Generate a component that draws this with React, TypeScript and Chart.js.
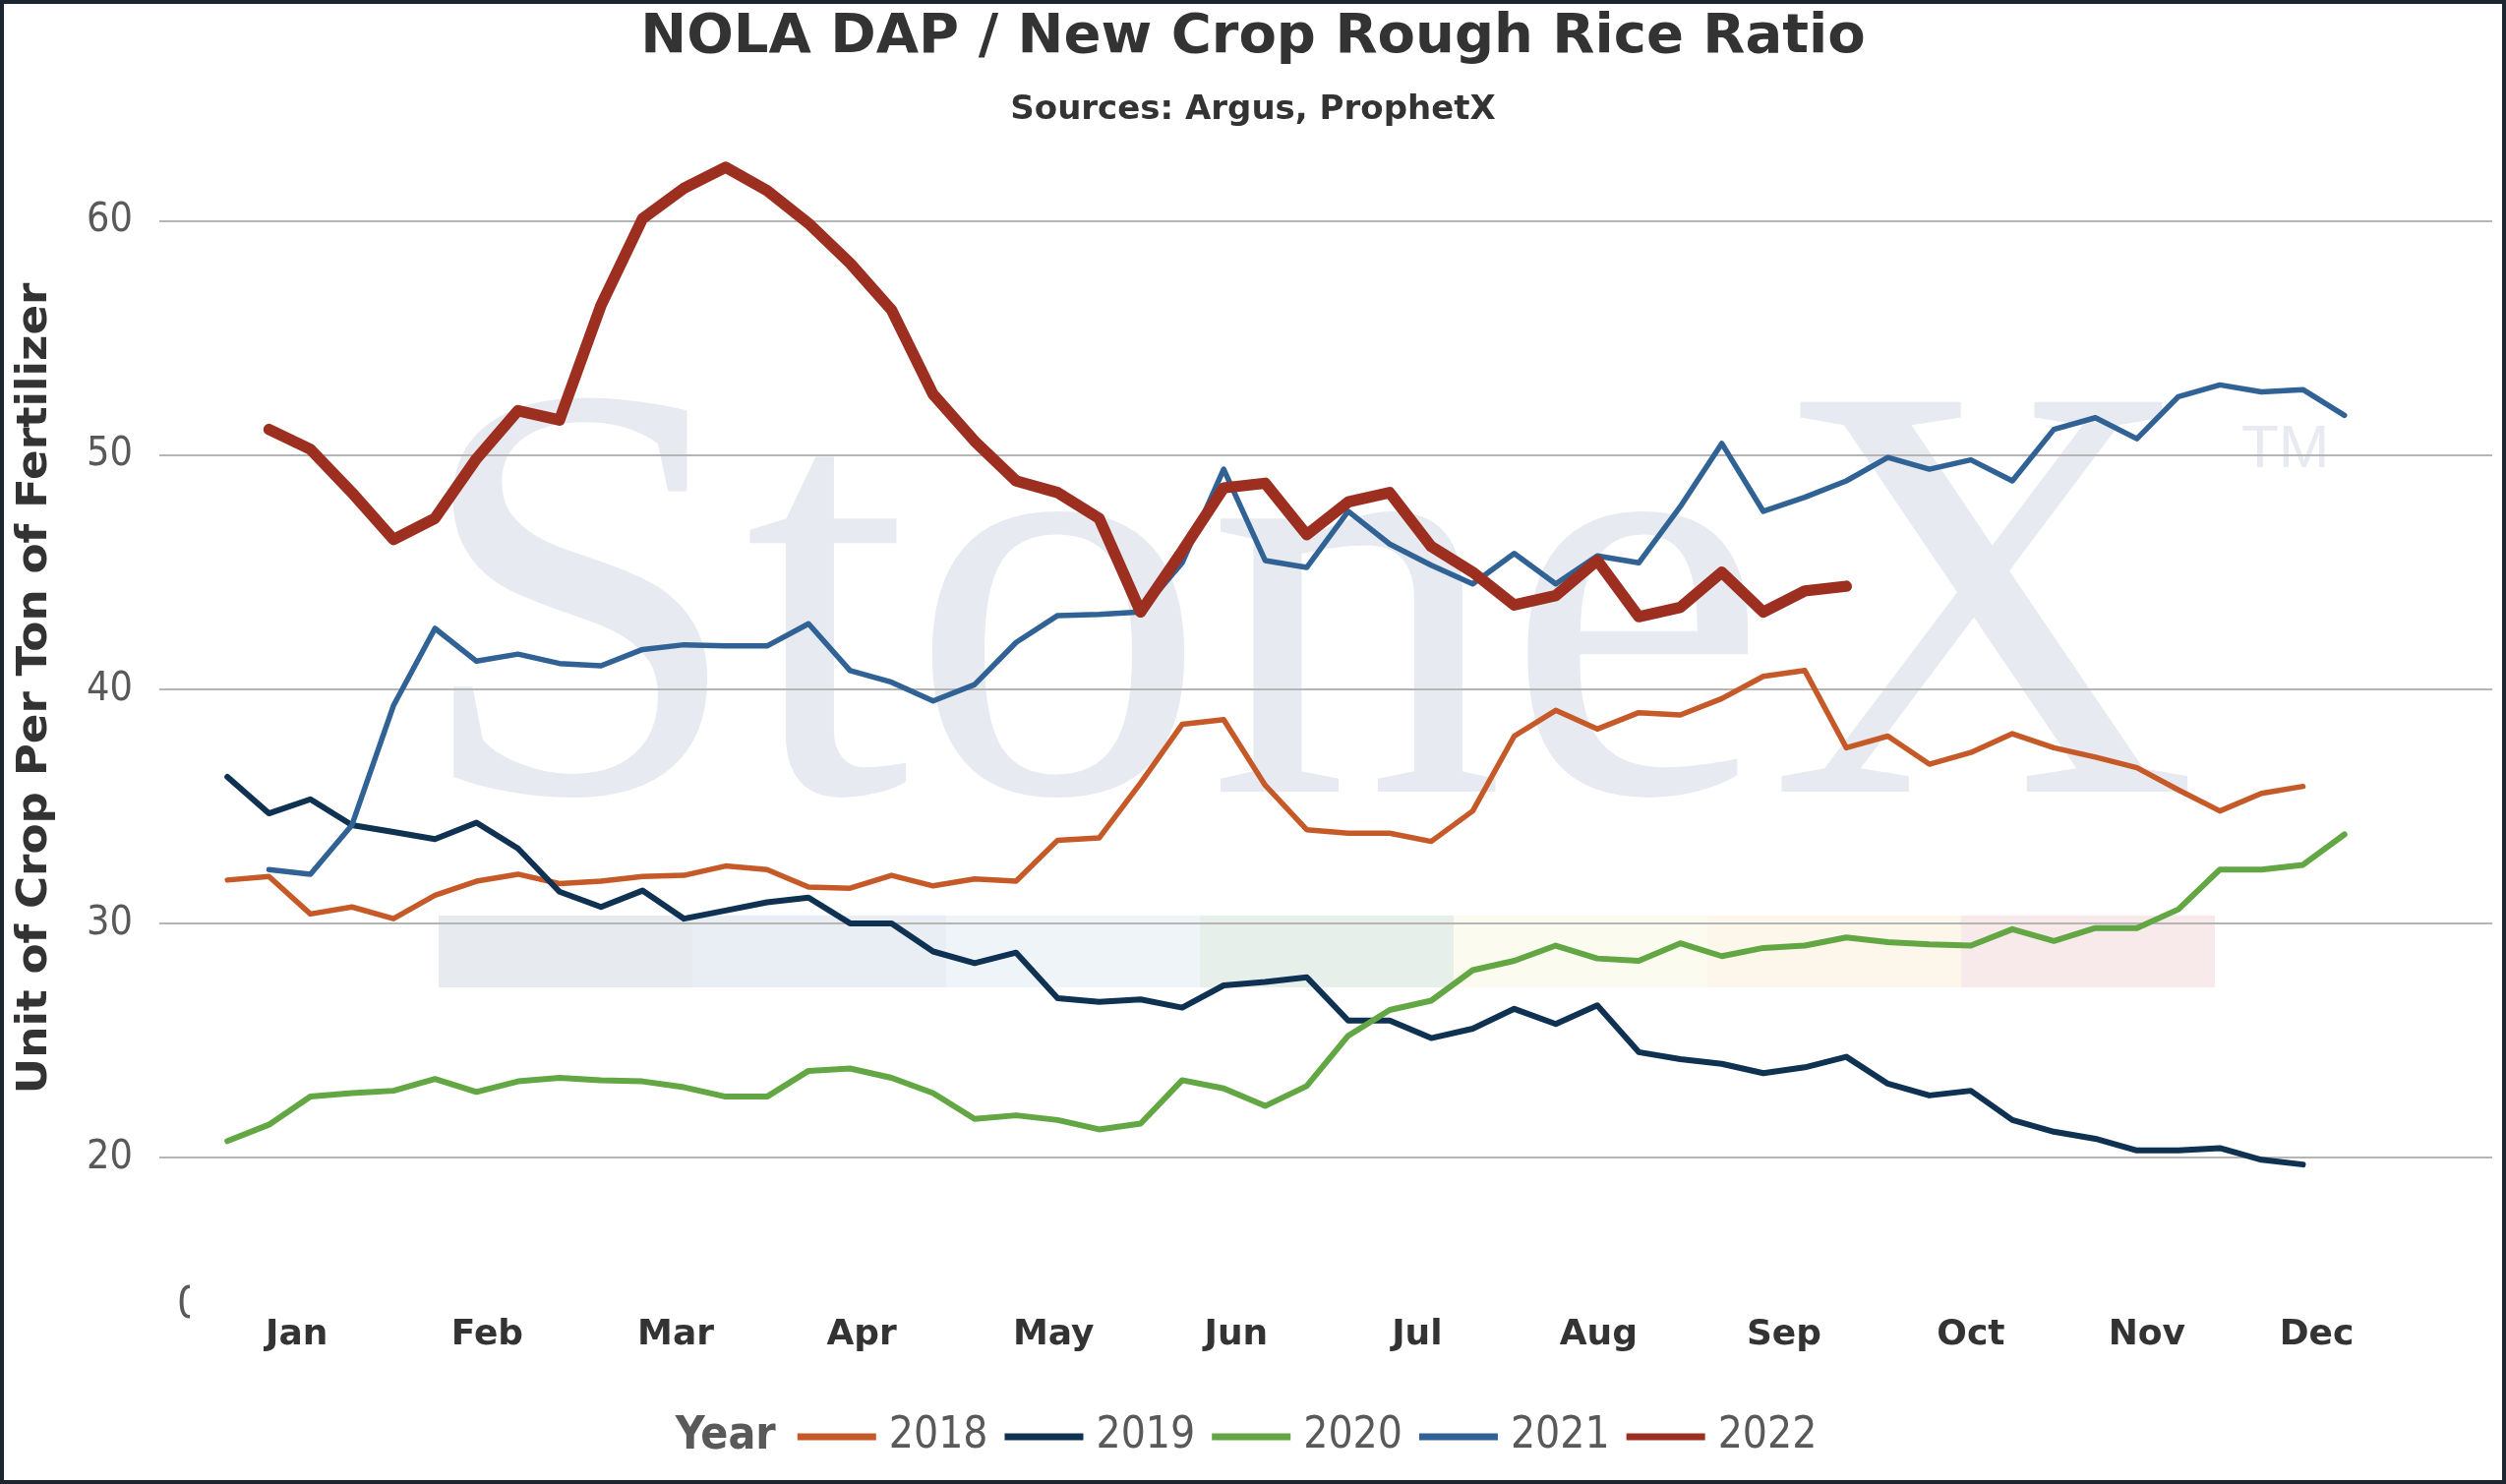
import { useEffect, useRef } from "react"
import { Chart, registerables, type ChartConfiguration, type Plugin } from "chart.js"

Chart.register(...registerables)

// month labels and where they sit on the weekly axis
const months = ["Jan", "Feb", "Mar", "Apr", "May", "Jun", "Jul", "Aug", "Sep", "Oct", "Nov", "Dec"]
const monthPos = [1.67, 6.26, 10.8, 15.28, 19.9, 24.3, 28.66, 33.03, 37.5, 42.0, 46.24, 50.33]

const yearLabels = ["2018", "2019", "2020", "2021", "2022"]

// weekly ratios, index = week number
const y2018 = [
  31.85, 32.0, 30.4, 30.7, 30.2, 31.2, 31.8, 32.1, 31.7, 31.8,
  32.0, 32.05, 32.45, 32.3, 31.55, 31.5, 32.05, 31.6, 31.9, 31.8,
  33.55, 33.65, 36.0, 38.5, 38.7, 35.9, 34.0, 33.85, 33.85, 33.5,
  34.8, 38.0, 39.1, 38.3, 39.0, 38.9, 39.6, 40.55, 40.8, 37.5,
  38.0, 36.8, 37.3, 38.1, 37.5, 37.1, 36.65, 35.7, 34.8, 35.55,
  35.85,
]
const y2019 = [
  36.26, 34.7, 35.3, 34.2, 33.9, 33.6, 34.3, 33.2, 31.35, 30.7,
  31.4, 30.2, 30.55, 30.9, 31.1, 30.0, 30.0, 28.8, 28.3, 28.75,
  26.8, 26.65, 26.75, 26.4, 27.35, 27.5, 27.7, 25.85, 25.85, 25.1,
  25.5, 26.35, 25.7, 26.5, 24.5, 24.2, 24.0, 23.6, 23.85, 24.3,
  23.15, 22.65, 22.85, 21.6, 21.1, 20.8, 20.3, 20.3, 20.4, 19.9,
  19.7,
]
const y2020 = [
  20.7, 21.4, 22.6, 22.75, 22.85, 23.35, 22.8, 23.25, 23.4, 23.3,
  23.25, 23.0, 22.6, 22.6, 23.7, 23.8, 23.4, 22.75, 21.65, 21.8,
  21.6, 21.2, 21.45, 23.3, 22.95, 22.2, 23.05, 25.2, 26.3, 26.7,
  28.0, 28.4, 29.05, 28.5, 28.4, 29.15, 28.6, 28.95, 29.05, 29.4,
  29.2, 29.1, 29.05, 29.75, 29.25, 29.8, 29.8, 30.6, 32.3, 32.3,
  32.5, 33.8,
]
const y2021 = [
  null, 32.3, 32.1, 34.2, 39.3, 42.6, 41.2, 41.5, 41.1, 41.0,
  41.7, 41.9, 41.85, 41.85, 42.8, 40.8, 40.3, 39.5, 40.2, 42.0,
  43.15, 43.2, 43.3, 45.4, 49.4, 45.5, 45.2, 47.6, 46.2, 45.3,
  44.5, 45.8, 44.5, 45.7, 45.4, 47.8, 50.5, 47.6, 48.2, 48.9,
  49.9, 49.4, 49.8, 48.9, 51.1, 51.6, 50.7, 52.5, 53.0, 52.7,
  52.8, 51.7,
]
const y2022 = [
  null, 51.1, 50.25, 48.4, 46.4, 47.3, 49.85, 51.9, 51.5, 56.4,
  60.1, 61.4, 62.3, 61.3, 59.9, 58.2, 56.2, 52.6, 50.6, 48.9,
  48.4, 47.3, 43.3, 45.9, 48.6, 48.8, 46.6, 48.0, 48.4, 46.1,
  45.0, 43.6, 44.0, 45.5, 43.1, 43.5, 45.0, 43.3, 44.2, 44.4,
]

const seriesValues = [y2018, y2019, y2020, y2021, y2022]
const seriesColors = ["#c55a28", "#0f3152", "#62a744", "#306296", "#9c2f20"]
const seriesWidths = [5.5, 6, 6, 5.5, 11.5]

// pale bands of the logo watermark
const bandColors = ["#e7eaef", "#e9eef5", "#eff4f9", "#e7efea", "#fbfbef", "#fdf6ea", "#f8e9ea"]

const condensed = "'DejaVu Sans Condensed', 'DejaVu Sans', sans-serif"
const wide = "'DejaVu Sans', sans-serif"
const yTitle = "Unit of Crop Per Ton of Fertilizer"

const watermark: Plugin<"line"> = {
  id: "watermark",
  beforeDraw(chart) {
    const { ctx } = chart
    ctx.save()
    bandColors.forEach((c, i) => {
      ctx.fillStyle = c
      ctx.fillRect(446 + i * 258, 931, 258, 73)
    })
    ctx.fillStyle = "#e7eaf0"
    ctx.textBaseline = "alphabetic"
    ctx.textAlign = "left"
    ctx.font = "605px 'Liberation Serif', serif"
    const m = ctx.measureText("StoneX")
    const inkW = m.actualBoundingBoxLeft + m.actualBoundingBoxRight
    ctx.save()
    ctx.translate(458, 805)
    ctx.scale(1775 / inkW, 1)
    ctx.fillText("StoneX", m.actualBoundingBoxLeft, 0)
    ctx.restore()
    ctx.font = "62px 'Liberation Sans', sans-serif"
    ctx.fillText("TM", 2279, 475)
    ctx.restore()
  },
}

const decorations: Plugin<"line"> = {
  id: "decorations",
  afterDraw(chart) {
    const { ctx } = chart
    const y = 1461
    ctx.save()
    ctx.textBaseline = "middle"
    ctx.textAlign = "left"
    ctx.font = `bold 46px ${condensed}`
    const titleW = ctx.measureText("Year").width
    ctx.font = `44px ${condensed}`
    const items = chart.data.datasets.map((ds) => ({
      label: String(ds.label),
      color: String(ds.borderColor),
      w: ctx.measureText(String(ds.label)).width,
    }))
    const swatch = 80
    const gapText = 13
    const gapItem = 17
    const gapYear = 22
    const total =
      titleW + gapYear + items.reduce((s, it) => s + swatch + gapText + it.w, 0) + gapItem * (items.length - 1)
    let x = 1267 - total / 2
    ctx.fillStyle = "#595959"
    ctx.font = `bold 46px ${condensed}`
    ctx.fillText("Year", x, y)
    x += titleW + gapYear
    ctx.font = `44px ${condensed}`
    items.forEach((it) => {
      ctx.strokeStyle = it.color
      ctx.lineWidth = 7
      ctx.beginPath()
      ctx.moveTo(x, y)
      ctx.lineTo(x + swatch, y)
      ctx.stroke()
      x += swatch + gapText
      ctx.fillStyle = "#595959"
      ctx.fillText(it.label, x, y)
      x += it.w + gapItem
    })
    ctx.restore()

    // y axis title (wide bold face, like the original)
    ctx.save()
    ctx.translate(36, 700)
    ctx.rotate(-Math.PI / 2)
    ctx.scale(1.077, 1)
    ctx.font = `bold 42px ${wide}`
    ctx.fillStyle = "#333333"
    ctx.textAlign = "center"
    ctx.textBaseline = "middle"
    ctx.fillText(yTitle, 0, 0)
    ctx.restore()

    // stray clipped label at the lower left of the plot
    ctx.save()
    ctx.beginPath()
    ctx.rect(170, 1300, 23, 60)
    ctx.clip()
    ctx.fillStyle = "#595959"
    ctx.textBaseline = "middle"
    ctx.font = `44px ${condensed}`
    ctx.fillText("0", 180, 1329)
    ctx.restore()

    // frame
    ctx.save()
    ctx.strokeStyle = "#1c2530"
    ctx.lineWidth = 4
    ctx.strokeRect(2, 2, chart.width - 4, chart.height - 4)
    ctx.restore()
  },
}

export default function App() {
  const canvasRef = useRef<HTMLCanvasElement>(null)
  const chartRef = useRef<Chart | null>(null)

  useEffect(() => {
    document.body.style.margin = "0"
    document.body.style.overflow = "hidden"
    if (!canvasRef.current) return
    const ctx = canvasRef.current.getContext("2d")
    if (!ctx) return

    if (chartRef.current) chartRef.current.destroy()

    const config: ChartConfiguration<"line"> = {
      type: "line",
      data: {
        datasets: seriesValues.map((vals, k) => ({
          label: yearLabels[k],
          data: vals.map((v, i) => ({ x: i, y: v })) as any,
          borderColor: seriesColors[k],
          backgroundColor: seriesColors[k],
          borderWidth: seriesWidths[k],
          pointRadius: 0,
          tension: 0,
          borderCapStyle: "round",
          borderJoinStyle: "round",
          order: seriesValues.length - 1 - k,
        })),
      },
      options: {
        animation: false,
        responsive: true,
        maintainAspectRatio: false,
        devicePixelRatio: 1,
        layout: { padding: 0 },
        plugins: {
          legend: { display: false },
          tooltip: { enabled: false },
          title: {
            display: true,
            text: "NOLA DAP / New Crop Rough Rice Ratio",
            color: "#333333",
            font: { family: wide, size: 56, weight: "bold", lineHeight: 1.2 },
            padding: { top: 5, bottom: 0 },
          },
          subtitle: {
            display: true,
            text: "Sources: Argus, ProphetX",
            color: "#333333",
            font: { family: wide, size: 34, weight: "bold", lineHeight: 1.2 },
            padding: { top: 19.4, bottom: 0 },
          },
        },
        scales: {
          x: {
            type: "linear",
            min: -1.64,
            max: 54.56,
            grid: { display: false },
            border: { display: false },
            afterBuildTicks: (scale) => {
              scale.ticks = monthPos.map((v) => ({ value: v }))
            },
            afterFit: (scale) => {
              scale.height = 213
            },
            ticks: {
              autoSkip: false,
              maxRotation: 0,
              padding: 32,
              color: "#333333",
              font: { family: wide, size: 36, weight: "bold" },
              callback: (_v, i) => months[i],
            },
          },
          y: {
            min: 15,
            max: 63.88,
            afterFit: (scale) => {
              scale.width = 162
            },
            grid: { color: "#b5b5b5", lineWidth: 2, drawTicks: false },
            border: { display: false },
            ticks: {
              stepSize: 10,
              includeBounds: false,
              padding: 27,
              color: "#595959",
              font: { family: condensed, size: 41 },
            },
          },
          yRight: {
            position: "right",
            grid: { display: false },
            border: { display: false },
            ticks: { display: false },
            afterFit: (scale) => {
              scale.width = 14
            },
          },
        },
      },
      plugins: [watermark, decorations],
    }

    chartRef.current = new Chart(ctx, config)

    return () => {
      if (chartRef.current) {
        chartRef.current.destroy()
        chartRef.current = null
      }
    }
  }, [])

  return (
    <div style={{ position: "relative", width: "2548px", height: "1509px", background: "#ffffff" }}>
      <canvas ref={canvasRef} />
    </div>
  )
}
